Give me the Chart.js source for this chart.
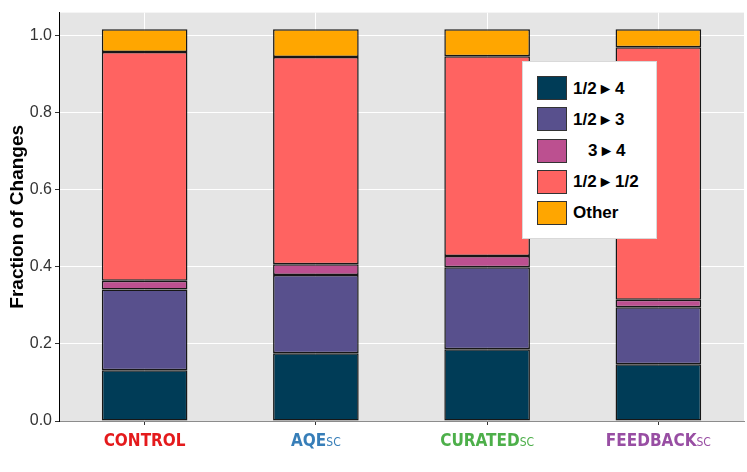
<!DOCTYPE html>
<html>
<head>
<meta charset="utf-8">
<script src="https://cdn.jsdelivr.net/npm/chart.js@4"></script>
<style>
  body { margin: 0; background: #fff; }
  #wrap { position: relative; width: 747px; height: 472px; }
  #legend {
    position: absolute; left: 522px; top: 61px; width: 133px; height: 176px;
    background: #fff; border: 1px solid #d9d9d9;
    font: bold 17px "Liberation Sans", Arial, sans-serif; color: #000;
  }
  .item { position: absolute; left: 14px; height: 24px; display: flex; align-items: center; }
  .sw { width: 28px; height: 22px; border: 1px solid #333; margin-right: 6px; flex: none; }
</style>
</head>
<body>
<div id="wrap">
  <canvas id="grafico" width="747" height="472"></canvas>
  <div id="legend"></div>
</div>
<script>
// categorias e rótulos
const categories = ['CONTROL', 'AQE', 'CURATED', 'FEEDBACK'];
const subscripts = ['', 'SC', 'SC', 'SC'];
const categoryColors = ['#E41A1C', '#377EB8', '#4DAF4A', '#984EA3'];

// séries (fração de mudanças, de baixo para cima)
const halfToFour = [0.132, 0.176, 0.186, 0.147];
const halfToThree = [0.209, 0.203, 0.213, 0.148];
const threeToFour = [0.023, 0.028, 0.029, 0.020];
const halfToHalf = [0.594, 0.538, 0.519, 0.655];
const other = [0.059, 0.072, 0.070, 0.047];

const seriesNames = ['1/2 \u25B8 4', '1/2 \u25B8 3', '3 \u25B8 4', '1/2 \u25B8 1/2', 'Other'];
const seriesColors = ['#003C57', '#58508D', '#BC5090', '#FF6361', '#FFA600'];
const seriesData = [halfToFour, halfToThree, threeToFour, halfToHalf, other];

const yMax = 1.06;
const yStep = 0.2;

const fundoCinza = {
    id: 'fundoCinza',
    beforeDraw(chart) {
        const { ctx, chartArea: a } = chart;
        ctx.save();
        ctx.fillStyle = '#E5E5E5';
        ctx.fillRect(a.left, a.top, a.right - a.left, a.bottom - a.top);
        ctx.restore();
    }
};

// rótulos do eixo x com cor e "SC" menor
const rotulosX = {
    id: 'rotulosX',
    afterDraw(chart) {
        const { ctx } = chart;
        const x = chart.scales.x;
        const bigFont = 'bold 17px "DejaVu Sans Condensed", "DejaVu Sans", sans-serif';
        const smallFont = '12px "DejaVu Sans Condensed", "DejaVu Sans", sans-serif';
        ctx.save();
        ctx.textBaseline = 'alphabetic';
        ctx.textAlign = 'left';
        categories.forEach((cat, i) => {
            const cx = x.getPixelForTick(i);
            ctx.font = bigFont;
            const w1 = ctx.measureText(cat).width;
            ctx.font = smallFont;
            const w2 = subscripts[i] ? ctx.measureText(subscripts[i]).width : 0;
            const start = cx - (w1 + w2) / 2;
            ctx.fillStyle = categoryColors[i];
            ctx.font = bigFont;
            ctx.fillText(cat, start, 446);
            if (subscripts[i]) {
                ctx.font = smallFont;
                ctx.fillText(subscripts[i], start + w1, 446);
            }
        });
        ctx.restore();
    }
};

new Chart(document.getElementById('grafico'), {
    type: 'bar',
    data: {
        labels: categories,
        datasets: seriesData.map((serie, i) => ({
            label: seriesNames[i],
            data: serie,
            backgroundColor: seriesColors[i],
            borderColor: 'rgba(0,0,0,0.9)',
            borderWidth: 1.5,
            borderSkipped: false,
            categoryPercentage: 1,
            barPercentage: 0.5
        }))
    },
    options: {
        responsive: false,
        animation: false,
        layout: { padding: { top: 12, right: 3, left: 0, bottom: 0 } },
        plugins: {
            legend: { display: false },
            tooltip: { enabled: false }
        },
        scales: {
            x: {
                stacked: true,
                afterFit: (scale) => { scale.height = 51; },
                grid: { offset: false, color: '#FFFFFF', lineWidth: 1, tickLength: 4, tickColor: '#333' },
                border: { color: '#8c8c8c', width: 1 },
                ticks: { color: 'rgba(0,0,0,0)', font: { size: 16 } }
            },
            y: {
                stacked: true,
                min: 0,
                max: yMax,
                afterFit: (scale) => { scale.width = 59; },
                grid: { color: '#FFFFFF', lineWidth: 1, tickLength: 4, tickColor: '#333' },
                border: { color: '#000', width: 1 },
                ticks: {
                    stepSize: yStep,
                    includeBounds: false,
                    padding: 3,
                    color: '#333',
                    font: { family: '"Liberation Sans", Arial, sans-serif', size: 16 },
                    callback: (v) => v.toFixed(1)
                },
                title: {
                    display: true,
                    text: 'Fraction of Changes',
                    color: '#000',
                    padding: { top: 6, bottom: 2 },
                    font: { family: '"Liberation Sans", Arial, sans-serif', size: 19, weight: 'bold' }
                }
            }
        }
    },
    plugins: [fundoCinza, rotulosX]
});

// legenda em HTML
const legend = document.getElementById('legend');
seriesNames.forEach((nome, i) => {
    const item = document.createElement('div');
    item.className = 'item';
    item.style.top = (14 + i * 31.3) + 'px';
    const sw = document.createElement('div');
    sw.className = 'sw';
    sw.style.background = seriesColors[i];
    const txt = document.createElement('span');
    txt.textContent = nome;
    if (i === 2) txt.style.paddingLeft = '15px';
    item.appendChild(sw);
    item.appendChild(txt);
    legend.appendChild(item);
});
</script>
</body>
</html>
